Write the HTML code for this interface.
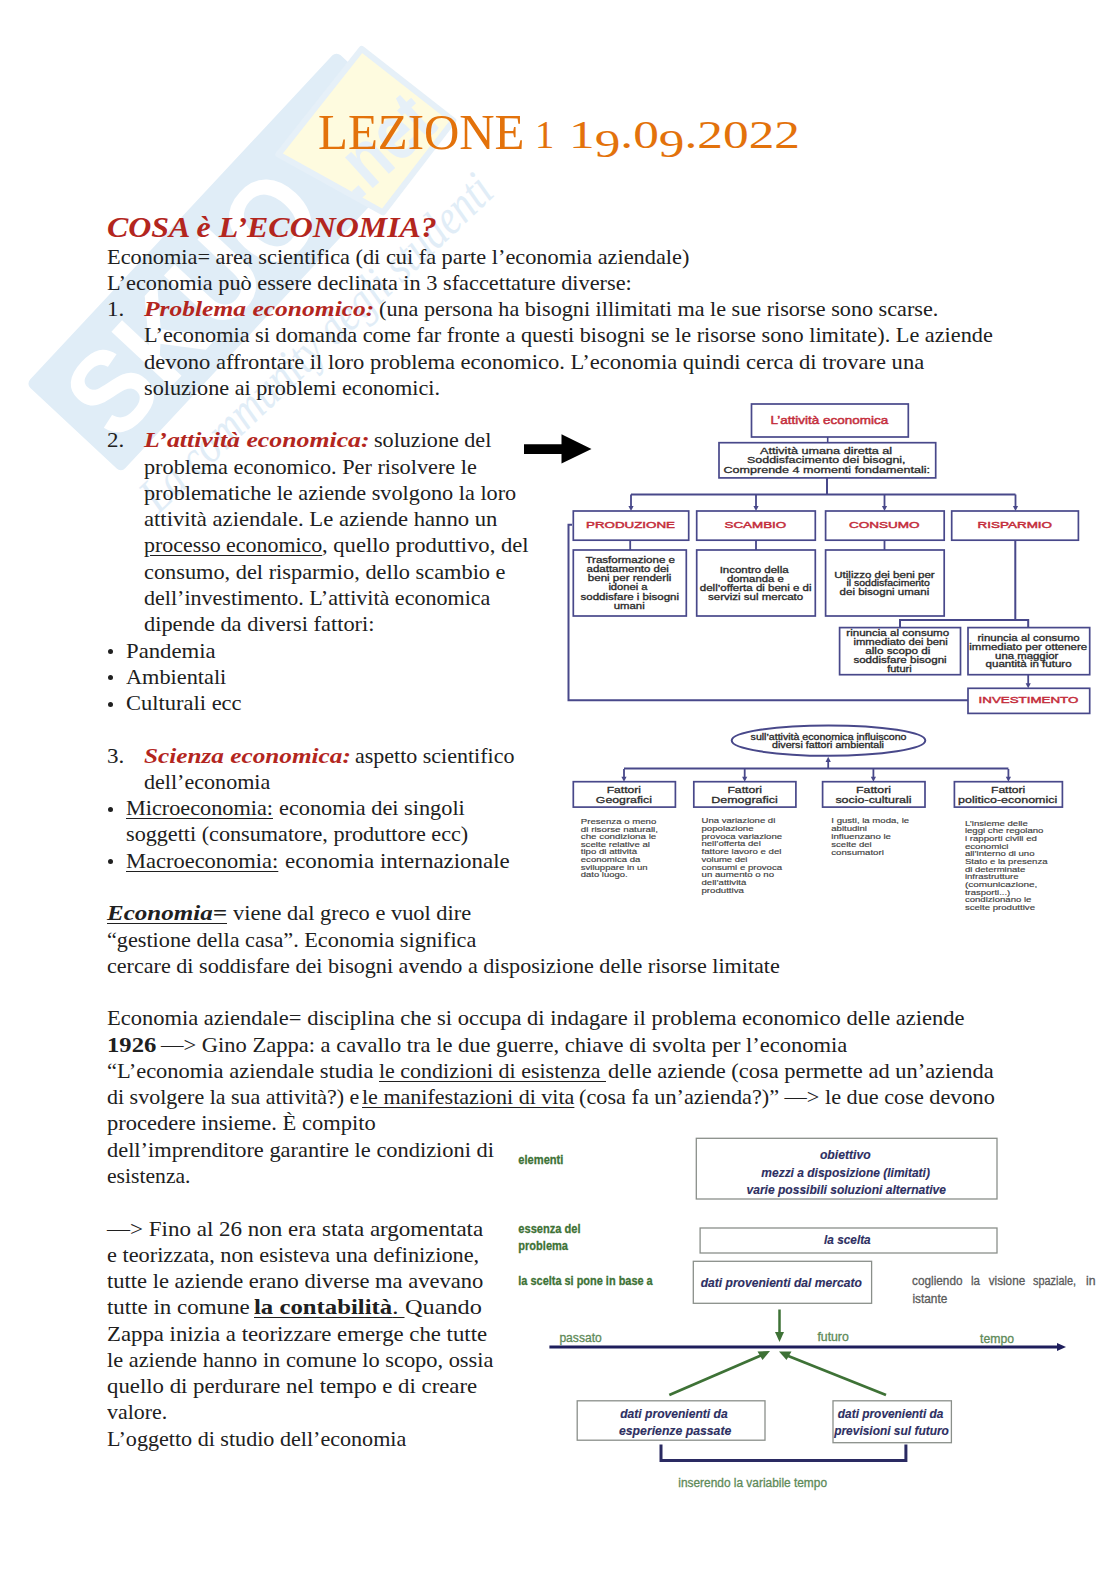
<!DOCTYPE html><html><head><meta charset="utf-8"><title>Lezione 1</title><style>
html,body{margin:0;padding:0;background:#fff;}
body{width:1116px;height:1579px;position:relative;overflow:hidden;font-family:"Liberation Serif",serif;color:#202020;}
.l{position:absolute;white-space:nowrap;line-height:0;transform-origin:0 0;}
.l span.in{display:inline-block;line-height:0;}
.r{color:#B3261E;font-weight:bold;font-style:italic;}
.title{color:#E3720B;}
.dn{position:relative;top:8.5px;}
.head{color:#B3261E;font-weight:bold;font-style:italic;}
u{text-decoration:underline;text-decoration-thickness:1px;text-underline-offset:3px;}
.bul{position:absolute;width:5px;height:5px;border-radius:50%;background:#202020;}
svg{position:absolute;left:0;top:0;}
</style></head><body>
<svg width="1116" height="600" viewBox="0 0 1116 600">
<g transform="translate(26,384) rotate(-47)">
<rect x="0" y="0" width="455" height="130" rx="6" fill="#E0EDF7"/>
<polygon points="340,28 474,17 484,133 369,144" fill="#FEFBDF" stroke="#E6F0F8" stroke-width="6" stroke-linejoin="round"/>
<text x="18" y="108" font-family="Liberation Sans" font-weight="bold" font-size="118" fill="#FFFFFF" textLength="310" lengthAdjust="spacingAndGlyphs">SKUO</text>
<text x="358" y="118" transform="rotate(5,358,118)" font-family="Liberation Sans" font-weight="bold" font-size="78" fill="#E6F0F8" textLength="112" lengthAdjust="spacingAndGlyphs">.net</text>
<text x="-5" y="186" transform="rotate(3.5,-5,186)" font-family="Liberation Serif" font-style="italic" font-size="50" fill="#E1EDF7" textLength="465" lengthAdjust="spacingAndGlyphs">La community degli studenti</text>
</g>
</svg>

<div class="l title" style="left:318.0px;top:131.72px;font-size:50px;transform:scaleX(0.9785)"><span class="in">LEZIONE</span></div>
<div class="l title" style="left:535.0px;top:135.10px;font-size:40px;transform:scaleX(0.9650)"><span class="in">1</span></div>
<div class="l title" style="left:568.5px;top:135.10px;font-size:40px;transform:scaleX(1.2833)"><span class="in">1<span class="dn">9</span>.0<span class="dn">9</span>.2022</span></div>
<div class="l head" style="left:107.0px;top:226.57px;font-size:30px;transform:scaleX(1.0636)"><span class="in">COSA è L’ECONOMIA?</span></div>
<div class="l" style="left:107.0px;top:256.51px;font-size:21.0px;transform:scaleX(1.0622)"><span class="in">Economia= area scientifica (di cui fa parte l’economia aziendale)</span></div>
<div class="l" style="left:107.0px;top:282.78px;font-size:21.0px;transform:scaleX(1.0618)"><span class="in">L’economia può essere declinata in 3 sfaccettature diverse:</span></div>
<div class="l" style="left:107.0px;top:309.05px;font-size:21.0px;transform:scaleX(1.0921)"><span class="in">1.</span></div>
<div class="l" style="left:144.0px;top:309.05px;font-size:21.0px;transform:scaleX(1.2150)"><span class="in"><span class="r">Problema economico:</span></span></div>
<div class="l" style="left:378.5px;top:309.05px;font-size:21.0px;transform:scaleX(1.0550)"><span class="in">(una persona ha bisogni illimitati ma le sue risorse sono scarse.</span></div>
<div class="l" style="left:144.0px;top:335.32px;font-size:21.0px;transform:scaleX(1.0604)"><span class="in">L’economia si domanda come far fronte a questi bisogni se le risorse sono limitate). Le aziende</span></div>
<div class="l" style="left:144.0px;top:361.59px;font-size:21.0px;transform:scaleX(1.0720)"><span class="in">devono affrontare il loro problema economico. L’economia quindi cerca di trovare una</span></div>
<div class="l" style="left:144.0px;top:387.86px;font-size:21.0px;transform:scaleX(1.0574)"><span class="in">soluzione ai problemi economici.</span></div>
<div class="l" style="left:107.0px;top:440.40px;font-size:21.0px;transform:scaleX(1.0921)"><span class="in">2.</span></div>
<div class="l" style="left:144.0px;top:440.40px;font-size:21.0px;transform:scaleX(1.2280)"><span class="in"><span class="r">L’attività economica:</span></span></div>
<div class="l" style="left:373.5px;top:440.40px;font-size:21.0px;transform:scaleX(1.0531)"><span class="in">soluzione del</span></div>
<div class="l" style="left:144.0px;top:466.67px;font-size:21.0px;transform:scaleX(1.0588)"><span class="in">problema economico. Per risolvere le</span></div>
<div class="l" style="left:144.0px;top:492.94px;font-size:21.0px;transform:scaleX(1.0585)"><span class="in">problematiche le aziende svolgono la loro</span></div>
<div class="l" style="left:144.0px;top:519.21px;font-size:21.0px;transform:scaleX(1.0785)"><span class="in">attività aziendale. Le aziende hanno un</span></div>
<div class="l" style="left:144.0px;top:545.48px;font-size:21.0px;transform:scaleX(1.0429)"><span class="in"><u>processo economico</u></span></div>
<div class="l" style="left:322.2px;top:545.48px;font-size:21.0px;transform:scaleX(1.0766)"><span class="in">, quello produttivo, del</span></div>
<div class="l" style="left:144.0px;top:571.75px;font-size:21.0px;transform:scaleX(1.0632)"><span class="in">consumo, del risparmio, dello scambio e</span></div>
<div class="l" style="left:144.0px;top:598.02px;font-size:21.0px;transform:scaleX(1.0500)"><span class="in">dell’investimento. L’attività economica</span></div>
<div class="l" style="left:144.0px;top:624.29px;font-size:21.0px;transform:scaleX(1.0654)"><span class="in">dipende da diversi fattori:</span></div>
<div class="l" style="left:126.0px;top:650.56px;font-size:21.0px;transform:scaleX(1.0820)"><span class="in">Pandemia</span></div>
<div class="l" style="left:126.0px;top:676.83px;font-size:21.0px;transform:scaleX(1.0616)"><span class="in">Ambientali</span></div>
<div class="l" style="left:126.0px;top:703.10px;font-size:21.0px;transform:scaleX(1.0716)"><span class="in">Culturali ecc</span></div>
<div class="l" style="left:107.0px;top:755.64px;font-size:21.0px;transform:scaleX(1.0921)"><span class="in">3.</span></div>
<div class="l" style="left:144.0px;top:755.64px;font-size:21.0px;transform:scaleX(1.2019)"><span class="in"><span class="r">Scienza economica:</span></span></div>
<div class="l" style="left:354.7px;top:755.64px;font-size:21.0px;transform:scaleX(1.0473)"><span class="in">aspetto scientifico</span></div>
<div class="l" style="left:144.0px;top:781.91px;font-size:21.0px;transform:scaleX(1.0514)"><span class="in">dell’economia</span></div>
<div class="l" style="left:126.0px;top:808.18px;font-size:21.0px;transform:scaleX(1.0591)"><span class="in"><u>Microeconomia:</u></span></div>
<div class="l" style="left:279.0px;top:808.18px;font-size:21.0px;transform:scaleX(1.0619)"><span class="in">economia dei singoli</span></div>
<div class="l" style="left:126.0px;top:834.45px;font-size:21.0px;transform:scaleX(1.0555)"><span class="in">soggetti (consumatore, produttore ecc)</span></div>
<div class="l" style="left:126.0px;top:860.72px;font-size:21.0px;transform:scaleX(1.0704)"><span class="in"><u>Macroeconomia:</u></span></div>
<div class="l" style="left:284.6px;top:860.72px;font-size:21.0px;transform:scaleX(1.0922)"><span class="in">economia internazionale</span></div>
<div class="l" style="left:107.0px;top:913.26px;font-size:21.0px;transform:scaleX(1.1922)"><span class="in"><u><b><i>Economia=</i></b></u></span></div>
<div class="l" style="left:232.6px;top:913.26px;font-size:21.0px;transform:scaleX(1.0666)"><span class="in">viene dal greco e vuol dire</span></div>
<div class="l" style="left:107.0px;top:939.53px;font-size:21.0px;transform:scaleX(1.0573)"><span class="in">“gestione della casa”. Economia significa</span></div>
<div class="l" style="left:107.0px;top:965.80px;font-size:21.0px;transform:scaleX(1.0527)"><span class="in">cercare di soddisfare dei bisogni avendo a disposizione delle risorse limitate</span></div>
<div class="l" style="left:107.0px;top:1018.34px;font-size:21.0px;transform:scaleX(1.0716)"><span class="in">Economia aziendale= disciplina che si occupa di indagare il problema economico delle aziende</span></div>
<div class="l" style="left:107.0px;top:1044.61px;font-size:21.0px;transform:scaleX(1.1738)"><span class="in"><b>1926</b></span></div>
<div class="l" style="left:161.0px;top:1044.61px;font-size:21.0px;transform:scaleX(1.0716)"><span class="in">—&gt; Gino Zappa: a cavallo tra le due guerre, chiave di svolta per l’economia</span></div>
<div class="l" style="left:107.0px;top:1070.88px;font-size:21.0px;transform:scaleX(1.0712)"><span class="in">“L’economia aziendale studia</span></div>
<div class="l" style="left:379.0px;top:1070.88px;font-size:21.0px;transform:scaleX(1.0464)"><span class="in"><u>le condizioni di esistenza&nbsp;</u></span></div>
<div class="l" style="left:607.5px;top:1070.88px;font-size:21.0px;transform:scaleX(1.0687)"><span class="in">delle aziende (cosa permette ad un’azienda</span></div>
<div class="l" style="left:107.0px;top:1097.15px;font-size:21.0px;transform:scaleX(1.0476)"><span class="in">di svolgere la sua attività?) e</span></div>
<div class="l" style="left:361.5px;top:1097.15px;font-size:21.0px;transform:scaleX(1.0496)"><span class="in"><u>le manifestazioni di vita</u></span></div>
<div class="l" style="left:579.2px;top:1097.15px;font-size:21.0px;transform:scaleX(1.0592)"><span class="in">(cosa fa un’azienda?)” —&gt; le due cose devono</span></div>
<div class="l" style="left:107.0px;top:1123.42px;font-size:21.0px;transform:scaleX(1.0716)"><span class="in">procedere insieme. È compito</span></div>
<div class="l" style="left:107.0px;top:1149.69px;font-size:21.0px;transform:scaleX(1.0670)"><span class="in">dell’imprenditore garantire le condizioni di</span></div>
<div class="l" style="left:107.0px;top:1175.96px;font-size:21.0px;transform:scaleX(1.0303)"><span class="in">esistenza.</span></div>
<div class="l" style="left:107.0px;top:1228.50px;font-size:21.0px;transform:scaleX(1.0959)"><span class="in">—&gt; Fino al 26 non era stata argomentata</span></div>
<div class="l" style="left:107.0px;top:1254.77px;font-size:21.0px;transform:scaleX(1.0621)"><span class="in">e teorizzata, non esisteva una definizione,</span></div>
<div class="l" style="left:107.0px;top:1281.04px;font-size:21.0px;transform:scaleX(1.0718)"><span class="in">tutte le aziende erano diverse ma avevano</span></div>
<div class="l" style="left:107.0px;top:1307.31px;font-size:21.0px;transform:scaleX(1.0915)"><span class="in">tutte in comune</span></div>
<div class="l" style="left:254.0px;top:1307.31px;font-size:21.0px;transform:scaleX(1.1779)"><span class="in"><u><b>la contabilità</b>.&nbsp;</u></span></div>
<div class="l" style="left:405.4px;top:1307.31px;font-size:21.0px;transform:scaleX(1.1549)"><span class="in">Quando</span></div>
<div class="l" style="left:107.0px;top:1333.58px;font-size:21.0px;transform:scaleX(1.0842)"><span class="in">Zappa inizia a teorizzare emerge che tutte</span></div>
<div class="l" style="left:107.0px;top:1359.85px;font-size:21.0px;transform:scaleX(1.0652)"><span class="in">le aziende hanno in comune lo scopo, ossia</span></div>
<div class="l" style="left:107.0px;top:1386.12px;font-size:21.0px;transform:scaleX(1.0853)"><span class="in">quello di perdurare nel tempo e di creare</span></div>
<div class="l" style="left:107.0px;top:1412.39px;font-size:21.0px;transform:scaleX(1.0427)"><span class="in">valore.</span></div>
<div class="l" style="left:107.0px;top:1438.66px;font-size:21.0px;transform:scaleX(1.0523)"><span class="in">L’oggetto di studio dell’economia</span></div>
<div class="bul" style="left:107.5px;top:649.2px"></div>
<div class="bul" style="left:107.5px;top:675.4px"></div>
<div class="bul" style="left:107.5px;top:701.7px"></div>
<div class="bul" style="left:107.5px;top:806.8px"></div>
<div class="bul" style="left:107.5px;top:859.3px"></div>
<svg width="1116" height="1579" viewBox="0 0 1116 1579">
<path d="M524,444.2 L561.5,444.2 L561.5,434.3 L591.5,449 L561.5,463.5 L561.5,453.9 L524,453.9 Z" fill="#000"/>
<rect x="751.5" y="404.0" width="156.8" height="33.0" fill="none" stroke="#48488A" stroke-width="1.7"/>
<text x="770.6" y="424.0" font-family="Liberation Sans" font-size="10.8" font-weight="normal" font-style="normal" fill="#C42E3C" stroke="#C42E3C" stroke-width="0.45" textLength="117.6" lengthAdjust="spacingAndGlyphs">L’attività economica</text>
<rect x="719.0" y="442.7" width="216.7" height="35.2" fill="none" stroke="#48488A" stroke-width="1.7"/>
<text x="760.0" y="453.7" font-family="Liberation Sans" font-size="9.6" font-weight="normal" font-style="normal" fill="#2A2A2A" stroke="#2A2A2A" stroke-width="0.3" textLength="132.2" lengthAdjust="spacingAndGlyphs">Attività umana diretta al</text>
<text x="747.0" y="463.3" font-family="Liberation Sans" font-size="9.6" font-weight="normal" font-style="normal" fill="#2A2A2A" stroke="#2A2A2A" stroke-width="0.3" textLength="158.6" lengthAdjust="spacingAndGlyphs">Soddisfacimento dei bisogni,</text>
<text x="723.5" y="473.4" font-family="Liberation Sans" font-size="9.6" font-weight="normal" font-style="normal" fill="#2A2A2A" stroke="#2A2A2A" stroke-width="0.3" textLength="206.5" lengthAdjust="spacingAndGlyphs">Comprende 4 momenti fondamentali:</text>
<path d="M827.7,437 V442.7" fill="none" stroke="#48488A" stroke-width="1.6"/>
<path d="M827,478 V494.5" fill="none" stroke="#48488A" stroke-width="2"/>
<path d="M631,494.5 H1015.5" fill="none" stroke="#48488A" stroke-width="2"/>
<path d="M631,494.5 V507" fill="none" stroke="#48488A" stroke-width="1.8"/>
<path d="M628.4,506.0 L633.6,506.0 L631.0,511.0 Z" fill="#48488A"/>
<path d="M756,494.5 V507" fill="none" stroke="#48488A" stroke-width="1.8"/>
<path d="M753.4,506.0 L758.6,506.0 L756.0,511.0 Z" fill="#48488A"/>
<path d="M884.5,494.5 V507" fill="none" stroke="#48488A" stroke-width="1.8"/>
<path d="M881.9,506.0 L887.1,506.0 L884.5,511.0 Z" fill="#48488A"/>
<path d="M1015.5,494.5 V507" fill="none" stroke="#48488A" stroke-width="1.8"/>
<path d="M1012.9,506.0 L1018.1,506.0 L1015.5,511.0 Z" fill="#48488A"/>
<rect x="573.3" y="511.0" width="115.4" height="29.2" fill="none" stroke="#48488A" stroke-width="1.7"/>
<text x="586.0" y="528.4" font-family="Liberation Sans" font-size="9.2" font-weight="normal" font-style="normal" fill="#C42E3C" stroke="#C42E3C" stroke-width="0.45" textLength="89.0" lengthAdjust="spacingAndGlyphs">PRODUZIONE</text>
<rect x="696.7" y="511.0" width="118.6" height="29.2" fill="none" stroke="#48488A" stroke-width="1.7"/>
<text x="724.5" y="528.4" font-family="Liberation Sans" font-size="9.2" font-weight="normal" font-style="normal" fill="#C42E3C" stroke="#C42E3C" stroke-width="0.45" textLength="61.7" lengthAdjust="spacingAndGlyphs">SCAMBIO</text>
<rect x="825.6" y="511.0" width="118.6" height="29.2" fill="none" stroke="#48488A" stroke-width="1.7"/>
<text x="848.9" y="528.4" font-family="Liberation Sans" font-size="9.2" font-weight="normal" font-style="normal" fill="#C42E3C" stroke="#C42E3C" stroke-width="0.45" textLength="70.7" lengthAdjust="spacingAndGlyphs">CONSUMO</text>
<rect x="951.7" y="511.0" width="126.7" height="29.2" fill="none" stroke="#48488A" stroke-width="1.7"/>
<text x="977.6" y="528.4" font-family="Liberation Sans" font-size="9.2" font-weight="normal" font-style="normal" fill="#C42E3C" stroke="#C42E3C" stroke-width="0.45" textLength="74.5" lengthAdjust="spacingAndGlyphs">RISPARMIO</text>
<rect x="573.3" y="550.0" width="113.0" height="66.0" fill="none" stroke="#48488A" stroke-width="1.7"/>
<text x="585.4" y="563.3" font-family="Liberation Sans" font-size="8.5" font-weight="normal" font-style="normal" fill="#2A2A2A" stroke="#2A2A2A" stroke-width="0.3" textLength="89.6" lengthAdjust="spacingAndGlyphs">Trasformazione e</text>
<text x="586.6" y="572.2" font-family="Liberation Sans" font-size="8.5" font-weight="normal" font-style="normal" fill="#2A2A2A" stroke="#2A2A2A" stroke-width="0.3" textLength="82.3" lengthAdjust="spacingAndGlyphs">adattamento dei</text>
<text x="587.8" y="581.4" font-family="Liberation Sans" font-size="8.5" font-weight="normal" font-style="normal" fill="#2A2A2A" stroke="#2A2A2A" stroke-width="0.3" textLength="83.5" lengthAdjust="spacingAndGlyphs">beni per renderli</text>
<text x="608.4" y="589.9" font-family="Liberation Sans" font-size="8.5" font-weight="normal" font-style="normal" fill="#2A2A2A" stroke="#2A2A2A" stroke-width="0.3" textLength="39.2" lengthAdjust="spacingAndGlyphs">idonei a</text>
<text x="580.6" y="599.6" font-family="Liberation Sans" font-size="8.5" font-weight="normal" font-style="normal" fill="#2A2A2A" stroke="#2A2A2A" stroke-width="0.3" textLength="98.4" lengthAdjust="spacingAndGlyphs">soddisfare i bisogni</text>
<text x="613.7" y="608.5" font-family="Liberation Sans" font-size="8.5" font-weight="normal" font-style="normal" fill="#2A2A2A" stroke="#2A2A2A" stroke-width="0.3" textLength="31.0" lengthAdjust="spacingAndGlyphs">umani</text>
<rect x="696.7" y="550.0" width="118.6" height="66.0" fill="none" stroke="#48488A" stroke-width="1.7"/>
<text x="719.7" y="573.0" font-family="Liberation Sans" font-size="8.5" font-weight="normal" font-style="normal" fill="#2A2A2A" stroke="#2A2A2A" stroke-width="0.3" textLength="68.9" lengthAdjust="spacingAndGlyphs">Incontro della</text>
<text x="727.0" y="582.0" font-family="Liberation Sans" font-size="8.5" font-weight="normal" font-style="normal" fill="#2A2A2A" stroke="#2A2A2A" stroke-width="0.3" textLength="56.8" lengthAdjust="spacingAndGlyphs">domanda e</text>
<text x="699.8" y="591.0" font-family="Liberation Sans" font-size="8.5" font-weight="normal" font-style="normal" fill="#2A2A2A" stroke="#2A2A2A" stroke-width="0.3" textLength="111.8" lengthAdjust="spacingAndGlyphs">dell’offerta di beni e di</text>
<text x="708.0" y="600.0" font-family="Liberation Sans" font-size="8.5" font-weight="normal" font-style="normal" fill="#2A2A2A" stroke="#2A2A2A" stroke-width="0.3" textLength="95.2" lengthAdjust="spacingAndGlyphs">servizi sul mercato</text>
<rect x="825.6" y="550.0" width="118.6" height="66.0" fill="none" stroke="#48488A" stroke-width="1.7"/>
<text x="834.3" y="577.6" font-family="Liberation Sans" font-size="8.5" font-weight="normal" font-style="normal" fill="#2A2A2A" stroke="#2A2A2A" stroke-width="0.3" textLength="100.4" lengthAdjust="spacingAndGlyphs">Utilizzo dei beni per</text>
<text x="846.4" y="586.4" font-family="Liberation Sans" font-size="8.5" font-weight="normal" font-style="normal" fill="#2A2A2A" stroke="#2A2A2A" stroke-width="0.3" textLength="83.5" lengthAdjust="spacingAndGlyphs">il soddisfacimento</text>
<text x="839.6" y="595.2" font-family="Liberation Sans" font-size="8.5" font-weight="normal" font-style="normal" fill="#2A2A2A" stroke="#2A2A2A" stroke-width="0.3" textLength="89.6" lengthAdjust="spacingAndGlyphs">dei bisogni umani</text>
<path d="M630.2,540 V550 M756,540 V550 M884.5,540 V550" fill="none" stroke="#48488A" stroke-width="1.8"/>
<path d="M1015.3,540 V620 M900,627.6 V620 H1028.2 V627.6" fill="none" stroke="#48488A" stroke-width="2"/>
<rect x="839.6" y="627.6" width="120.9" height="47.1" fill="none" stroke="#48488A" stroke-width="1.7"/>
<text x="846.3" y="636.0" font-family="Liberation Sans" font-size="8.5" font-weight="normal" font-style="normal" fill="#2A2A2A" stroke="#2A2A2A" stroke-width="0.3" textLength="102.9" lengthAdjust="spacingAndGlyphs">rinuncia al consumo</text>
<text x="853.4" y="644.9" font-family="Liberation Sans" font-size="8.5" font-weight="normal" font-style="normal" fill="#2A2A2A" stroke="#2A2A2A" stroke-width="0.3" textLength="94.5" lengthAdjust="spacingAndGlyphs">immediato dei beni</text>
<text x="865.2" y="653.6" font-family="Liberation Sans" font-size="8.5" font-weight="normal" font-style="normal" fill="#2A2A2A" stroke="#2A2A2A" stroke-width="0.3" textLength="65.2" lengthAdjust="spacingAndGlyphs">allo scopo di</text>
<text x="853.4" y="663.2" font-family="Liberation Sans" font-size="8.5" font-weight="normal" font-style="normal" fill="#2A2A2A" stroke="#2A2A2A" stroke-width="0.3" textLength="93.3" lengthAdjust="spacingAndGlyphs">soddisfare bisogni</text>
<text x="887.2" y="672.0" font-family="Liberation Sans" font-size="8.5" font-weight="normal" font-style="normal" fill="#2A2A2A" stroke="#2A2A2A" stroke-width="0.3" textLength="24.4" lengthAdjust="spacingAndGlyphs">futuri</text>
<rect x="968.0" y="627.6" width="121.7" height="47.1" fill="none" stroke="#48488A" stroke-width="1.7"/>
<text x="977.5" y="640.6" font-family="Liberation Sans" font-size="8.5" font-weight="normal" font-style="normal" fill="#2A2A2A" stroke="#2A2A2A" stroke-width="0.3" textLength="102.2" lengthAdjust="spacingAndGlyphs">rinuncia al consumo</text>
<text x="969.3" y="649.9" font-family="Liberation Sans" font-size="8.5" font-weight="normal" font-style="normal" fill="#2A2A2A" stroke="#2A2A2A" stroke-width="0.3" textLength="117.9" lengthAdjust="spacingAndGlyphs">immediato per ottenere</text>
<text x="995.1" y="658.7" font-family="Liberation Sans" font-size="8.5" font-weight="normal" font-style="normal" fill="#2A2A2A" stroke="#2A2A2A" stroke-width="0.3" textLength="63.2" lengthAdjust="spacingAndGlyphs">una maggior</text>
<text x="985.6" y="667.4" font-family="Liberation Sans" font-size="8.5" font-weight="normal" font-style="normal" fill="#2A2A2A" stroke="#2A2A2A" stroke-width="0.3" textLength="86.0" lengthAdjust="spacingAndGlyphs">quantità in futuro</text>
<path d="M1028.2,674.7 V684" fill="none" stroke="#48488A" stroke-width="1.8"/>
<path d="M1025.6,683.3 L1030.8,683.3 L1028.2,688.3 Z" fill="#48488A"/>
<rect x="968.0" y="688.3" width="121.7" height="25.1" fill="none" stroke="#48488A" stroke-width="1.7"/>
<text x="978.6" y="703.3" font-family="Liberation Sans" font-size="9.2" font-weight="normal" font-style="normal" fill="#C42E3C" stroke="#C42E3C" stroke-width="0.45" textLength="99.8" lengthAdjust="spacingAndGlyphs">INVESTIMENTO</text>
<path d="M968,700.3 H568.5 V524.8 H572" fill="none" stroke="#48488A" stroke-width="2"/>
<ellipse cx="828.5" cy="740.6" rx="96.8" ry="15.2" fill="none" stroke="#48488A" stroke-width="2"/>
<text x="750.6" y="739.7" font-family="Liberation Sans" font-size="8.2" font-weight="normal" font-style="normal" fill="#2A2A2A" stroke="#2A2A2A" stroke-width="0.3" textLength="155.9" lengthAdjust="spacingAndGlyphs">sull’attività economica influiscono</text>
<text x="772.0" y="747.8" font-family="Liberation Sans" font-size="8.2" font-weight="normal" font-style="normal" fill="#2A2A2A" stroke="#2A2A2A" stroke-width="0.3" textLength="112.0" lengthAdjust="spacingAndGlyphs">diversi fattori ambientali</text>
<path d="M828.2,768.4 V761" fill="none" stroke="#48488A" stroke-width="1.8"/>
<path d="M825.6,762 L830.8,762 L828.2,756.7 Z" fill="#48488A"/>
<path d="M624,768.6 H1008.4" fill="none" stroke="#48488A" stroke-width="2"/>
<path d="M624,769 V777.5" fill="none" stroke="#48488A" stroke-width="1.8"/>
<path d="M621.4,776.7 L626.6,776.7 L624.0,781.7 Z" fill="#48488A"/>
<path d="M744.7,769 V777.5" fill="none" stroke="#48488A" stroke-width="1.8"/>
<path d="M742.1,776.7 L747.3,776.7 L744.7,781.7 Z" fill="#48488A"/>
<path d="M873.4,769 V777.5" fill="none" stroke="#48488A" stroke-width="1.8"/>
<path d="M870.8,776.7 L876.0,776.7 L873.4,781.7 Z" fill="#48488A"/>
<path d="M1008.4,769 V777.5" fill="none" stroke="#48488A" stroke-width="1.8"/>
<path d="M1005.8,776.7 L1011.0,776.7 L1008.4,781.7 Z" fill="#48488A"/>
<rect x="573.3" y="781.7" width="102.1" height="25.4" fill="none" stroke="#48488A" stroke-width="1.7"/>
<text x="606.7" y="792.6" font-family="Liberation Sans" font-size="9.8" font-weight="normal" font-style="normal" fill="#2A2A2A" stroke="#2A2A2A" stroke-width="0.3" textLength="34.3" lengthAdjust="spacingAndGlyphs">Fattori</text>
<text x="595.8" y="802.7" font-family="Liberation Sans" font-size="9.8" font-weight="normal" font-style="normal" fill="#2A2A2A" stroke="#2A2A2A" stroke-width="0.3" textLength="56.2" lengthAdjust="spacingAndGlyphs">Geografici</text>
<rect x="693.8" y="781.7" width="102.1" height="25.4" fill="none" stroke="#48488A" stroke-width="1.7"/>
<text x="727.4" y="792.6" font-family="Liberation Sans" font-size="9.8" font-weight="normal" font-style="normal" fill="#2A2A2A" stroke="#2A2A2A" stroke-width="0.3" textLength="34.6" lengthAdjust="spacingAndGlyphs">Fattori</text>
<text x="711.2" y="802.7" font-family="Liberation Sans" font-size="9.8" font-weight="normal" font-style="normal" fill="#2A2A2A" stroke="#2A2A2A" stroke-width="0.3" textLength="66.6" lengthAdjust="spacingAndGlyphs">Demografici</text>
<rect x="822.6" y="781.7" width="102.4" height="25.4" fill="none" stroke="#48488A" stroke-width="1.7"/>
<text x="856.0" y="792.6" font-family="Liberation Sans" font-size="9.8" font-weight="normal" font-style="normal" fill="#2A2A2A" stroke="#2A2A2A" stroke-width="0.3" textLength="35.0" lengthAdjust="spacingAndGlyphs">Fattori</text>
<text x="835.4" y="802.7" font-family="Liberation Sans" font-size="9.8" font-weight="normal" font-style="normal" fill="#2A2A2A" stroke="#2A2A2A" stroke-width="0.3" textLength="76.2" lengthAdjust="spacingAndGlyphs">socio-culturali</text>
<rect x="954.4" y="781.7" width="108.0" height="25.4" fill="none" stroke="#48488A" stroke-width="1.7"/>
<text x="991.0" y="792.6" font-family="Liberation Sans" font-size="9.8" font-weight="normal" font-style="normal" fill="#2A2A2A" stroke="#2A2A2A" stroke-width="0.3" textLength="34.3" lengthAdjust="spacingAndGlyphs">Fattori</text>
<text x="958.1" y="802.7" font-family="Liberation Sans" font-size="9.8" font-weight="normal" font-style="normal" fill="#2A2A2A" stroke="#2A2A2A" stroke-width="0.3" textLength="99.2" lengthAdjust="spacingAndGlyphs">politico-economici</text>
<text x="580.8" y="823.9" font-family="Liberation Sans" font-size="7.6" font-weight="normal" font-style="normal" fill="#404040" stroke="#404040" stroke-width="0.15" textLength="75.5" lengthAdjust="spacingAndGlyphs">Presenza o meno</text>
<text x="580.8" y="831.5" font-family="Liberation Sans" font-size="7.6" font-weight="normal" font-style="normal" fill="#404040" stroke="#404040" stroke-width="0.15" textLength="77.2" lengthAdjust="spacingAndGlyphs">di risorse naturali,</text>
<text x="580.8" y="839.1" font-family="Liberation Sans" font-size="7.6" font-weight="normal" font-style="normal" fill="#404040" stroke="#404040" stroke-width="0.15" textLength="75.5" lengthAdjust="spacingAndGlyphs">che condiziona le</text>
<text x="580.8" y="846.7" font-family="Liberation Sans" font-size="7.6" font-weight="normal" font-style="normal" fill="#404040" stroke="#404040" stroke-width="0.15" textLength="69.2" lengthAdjust="spacingAndGlyphs">scelte relative al</text>
<text x="580.8" y="854.3" font-family="Liberation Sans" font-size="7.6" font-weight="normal" font-style="normal" fill="#404040" stroke="#404040" stroke-width="0.15" textLength="56.2" lengthAdjust="spacingAndGlyphs">tipo di attività</text>
<text x="580.8" y="861.9" font-family="Liberation Sans" font-size="7.6" font-weight="normal" font-style="normal" fill="#404040" stroke="#404040" stroke-width="0.15" textLength="59.5" lengthAdjust="spacingAndGlyphs">economica da</text>
<text x="580.8" y="869.5" font-family="Liberation Sans" font-size="7.6" font-weight="normal" font-style="normal" fill="#404040" stroke="#404040" stroke-width="0.15" textLength="66.8" lengthAdjust="spacingAndGlyphs">sviluppare in un</text>
<text x="580.8" y="877.1" font-family="Liberation Sans" font-size="7.6" font-weight="normal" font-style="normal" fill="#404040" stroke="#404040" stroke-width="0.15" textLength="46.9" lengthAdjust="spacingAndGlyphs">dato luogo.</text>
<text x="701.5" y="823.3" font-family="Liberation Sans" font-size="7.6" font-weight="normal" font-style="normal" fill="#404040" stroke="#404040" stroke-width="0.15" textLength="73.8" lengthAdjust="spacingAndGlyphs">Una variazione di</text>
<text x="701.5" y="831.0" font-family="Liberation Sans" font-size="7.6" font-weight="normal" font-style="normal" fill="#404040" stroke="#404040" stroke-width="0.15" textLength="52.1" lengthAdjust="spacingAndGlyphs">popolazione</text>
<text x="701.5" y="838.7" font-family="Liberation Sans" font-size="7.6" font-weight="normal" font-style="normal" fill="#404040" stroke="#404040" stroke-width="0.15" textLength="80.6" lengthAdjust="spacingAndGlyphs">provoca variazione</text>
<text x="701.5" y="846.4" font-family="Liberation Sans" font-size="7.6" font-weight="normal" font-style="normal" fill="#404040" stroke="#404040" stroke-width="0.15" textLength="59.3" lengthAdjust="spacingAndGlyphs">nell’offerta del</text>
<text x="701.5" y="854.1" font-family="Liberation Sans" font-size="7.6" font-weight="normal" font-style="normal" fill="#404040" stroke="#404040" stroke-width="0.15" textLength="79.9" lengthAdjust="spacingAndGlyphs">fattore lavoro e del</text>
<text x="701.5" y="861.8" font-family="Liberation Sans" font-size="7.6" font-weight="normal" font-style="normal" fill="#404040" stroke="#404040" stroke-width="0.15" textLength="46.0" lengthAdjust="spacingAndGlyphs">volume dei</text>
<text x="701.5" y="869.5" font-family="Liberation Sans" font-size="7.6" font-weight="normal" font-style="normal" fill="#404040" stroke="#404040" stroke-width="0.15" textLength="80.6" lengthAdjust="spacingAndGlyphs">consumi e provoca</text>
<text x="701.5" y="877.2" font-family="Liberation Sans" font-size="7.6" font-weight="normal" font-style="normal" fill="#404040" stroke="#404040" stroke-width="0.15" textLength="72.6" lengthAdjust="spacingAndGlyphs">un aumento o no</text>
<text x="701.5" y="884.9" font-family="Liberation Sans" font-size="7.6" font-weight="normal" font-style="normal" fill="#404040" stroke="#404040" stroke-width="0.15" textLength="44.8" lengthAdjust="spacingAndGlyphs">dell’attività</text>
<text x="701.5" y="892.6" font-family="Liberation Sans" font-size="7.6" font-weight="normal" font-style="normal" fill="#404040" stroke="#404040" stroke-width="0.15" textLength="42.4" lengthAdjust="spacingAndGlyphs">produttiva</text>
<text x="831.3" y="823.3" font-family="Liberation Sans" font-size="7.6" font-weight="normal" font-style="normal" fill="#404040" stroke="#404040" stroke-width="0.15" textLength="77.9" lengthAdjust="spacingAndGlyphs">I gusti, la moda, le</text>
<text x="831.3" y="831.1" font-family="Liberation Sans" font-size="7.6" font-weight="normal" font-style="normal" fill="#404040" stroke="#404040" stroke-width="0.15" textLength="35.6" lengthAdjust="spacingAndGlyphs">abitudini</text>
<text x="831.3" y="838.9" font-family="Liberation Sans" font-size="7.6" font-weight="normal" font-style="normal" fill="#404040" stroke="#404040" stroke-width="0.15" textLength="59.7" lengthAdjust="spacingAndGlyphs">influenzano le</text>
<text x="831.3" y="846.7" font-family="Liberation Sans" font-size="7.6" font-weight="normal" font-style="normal" fill="#404040" stroke="#404040" stroke-width="0.15" textLength="40.4" lengthAdjust="spacingAndGlyphs">scelte dei</text>
<text x="831.3" y="854.5" font-family="Liberation Sans" font-size="7.6" font-weight="normal" font-style="normal" fill="#404040" stroke="#404040" stroke-width="0.15" textLength="52.5" lengthAdjust="spacingAndGlyphs">consumatori</text>
<text x="964.9" y="825.7" font-family="Liberation Sans" font-size="7.6" font-weight="normal" font-style="normal" fill="#404040" stroke="#404040" stroke-width="0.15" textLength="62.9" lengthAdjust="spacingAndGlyphs">L’insieme delle</text>
<text x="964.9" y="833.3" font-family="Liberation Sans" font-size="7.6" font-weight="normal" font-style="normal" fill="#404040" stroke="#404040" stroke-width="0.15" textLength="78.6" lengthAdjust="spacingAndGlyphs">leggi che regolano</text>
<text x="964.9" y="841.0" font-family="Liberation Sans" font-size="7.6" font-weight="normal" font-style="normal" fill="#404040" stroke="#404040" stroke-width="0.15" textLength="72.1" lengthAdjust="spacingAndGlyphs">i rapporti civili ed</text>
<text x="964.9" y="848.6" font-family="Liberation Sans" font-size="7.6" font-weight="normal" font-style="normal" fill="#404040" stroke="#404040" stroke-width="0.15" textLength="43.5" lengthAdjust="spacingAndGlyphs">economici</text>
<text x="964.9" y="856.3" font-family="Liberation Sans" font-size="7.6" font-weight="normal" font-style="normal" fill="#404040" stroke="#404040" stroke-width="0.15" textLength="69.6" lengthAdjust="spacingAndGlyphs">all’interno di uno</text>
<text x="964.9" y="863.9" font-family="Liberation Sans" font-size="7.6" font-weight="normal" font-style="normal" fill="#404040" stroke="#404040" stroke-width="0.15" textLength="82.7" lengthAdjust="spacingAndGlyphs">Stato e la presenza</text>
<text x="964.9" y="871.5" font-family="Liberation Sans" font-size="7.6" font-weight="normal" font-style="normal" fill="#404040" stroke="#404040" stroke-width="0.15" textLength="60.4" lengthAdjust="spacingAndGlyphs">di determinate</text>
<text x="964.9" y="879.2" font-family="Liberation Sans" font-size="7.6" font-weight="normal" font-style="normal" fill="#404040" stroke="#404040" stroke-width="0.15" textLength="53.7" lengthAdjust="spacingAndGlyphs">infrastrutture</text>
<text x="964.9" y="886.8" font-family="Liberation Sans" font-size="7.6" font-weight="normal" font-style="normal" fill="#404040" stroke="#404040" stroke-width="0.15" textLength="72.5" lengthAdjust="spacingAndGlyphs">(comunicazione,</text>
<text x="964.9" y="894.5" font-family="Liberation Sans" font-size="7.6" font-weight="normal" font-style="normal" fill="#404040" stroke="#404040" stroke-width="0.15" textLength="45.4" lengthAdjust="spacingAndGlyphs">trasporti...)</text>
<text x="964.9" y="902.1" font-family="Liberation Sans" font-size="7.6" font-weight="normal" font-style="normal" fill="#404040" stroke="#404040" stroke-width="0.15" textLength="66.5" lengthAdjust="spacingAndGlyphs">condizionano le</text>
<text x="964.9" y="909.7" font-family="Liberation Sans" font-size="7.6" font-weight="normal" font-style="normal" fill="#404040" stroke="#404040" stroke-width="0.15" textLength="70.1" lengthAdjust="spacingAndGlyphs">scelte produttive</text>
<text x="518.3" y="1164.4" font-family="Liberation Sans" font-size="13" font-weight="bold" font-style="normal" fill="#3E7236" stroke="#3E7236" stroke-width="0.3" textLength="45.1" lengthAdjust="spacingAndGlyphs">elementi</text>
<text x="518.3" y="1233.0" font-family="Liberation Sans" font-size="13" font-weight="bold" font-style="normal" fill="#3E7236" stroke="#3E7236" stroke-width="0.3" textLength="62.3" lengthAdjust="spacingAndGlyphs">essenza del</text>
<text x="518.3" y="1250.4" font-family="Liberation Sans" font-size="13" font-weight="bold" font-style="normal" fill="#3E7236" stroke="#3E7236" stroke-width="0.3" textLength="49.7" lengthAdjust="spacingAndGlyphs">problema</text>
<text x="518.3" y="1285.3" font-family="Liberation Sans" font-size="13" font-weight="bold" font-style="normal" fill="#3E7236" stroke="#3E7236" stroke-width="0.3" textLength="134.4" lengthAdjust="spacingAndGlyphs">la scelta si pone in base a</text>
<rect x="696.3" y="1138.3" width="300.7" height="60.7" fill="none" stroke="#8A8F8A" stroke-width="1.3"/>
<text x="819.9" y="1159.0" font-family="Liberation Sans" font-size="13.5" font-weight="bold" font-style="italic" fill="#2E2F62" stroke="#2E2F62" stroke-width="0.15" textLength="50.8" lengthAdjust="spacingAndGlyphs">obiettivo</text>
<text x="761.3" y="1177.0" font-family="Liberation Sans" font-size="13.5" font-weight="bold" font-style="italic" fill="#2E2F62" stroke="#2E2F62" stroke-width="0.15" textLength="168.6" lengthAdjust="spacingAndGlyphs">mezzi a disposizione (limitati)</text>
<text x="746.5" y="1194.0" font-family="Liberation Sans" font-size="13.5" font-weight="bold" font-style="italic" fill="#2E2F62" stroke="#2E2F62" stroke-width="0.15" textLength="199.5" lengthAdjust="spacingAndGlyphs">varie possibili soluzioni alternative</text>
<rect x="700.1" y="1228.0" width="296.9" height="25.0" fill="none" stroke="#8A8F8A" stroke-width="1.3"/>
<text x="824.0" y="1244.2" font-family="Liberation Sans" font-size="13.5" font-weight="bold" font-style="italic" fill="#2E2F62" stroke="#2E2F62" stroke-width="0.15" textLength="46.7" lengthAdjust="spacingAndGlyphs">la scelta</text>
<rect x="693.3" y="1261.3" width="178.3" height="42.0" fill="none" stroke="#8A8F8A" stroke-width="1.3"/>
<text x="700.7" y="1287.0" font-family="Liberation Sans" font-size="13.5" font-weight="bold" font-style="italic" fill="#2E2F62" stroke="#2E2F62" stroke-width="0.15" textLength="161.1" lengthAdjust="spacingAndGlyphs">dati provenienti dal mercato</text>
<text x="912.0" y="1285.0" font-family="Liberation Sans" font-size="12.5" font-weight="normal" font-style="normal" fill="#5a5a5a" stroke="#5a5a5a" stroke-width="0.3" textLength="50.5" lengthAdjust="spacingAndGlyphs">cogliendo</text>
<text x="971.0" y="1285.0" font-family="Liberation Sans" font-size="12.5" font-weight="normal" font-style="normal" fill="#5a5a5a" stroke="#5a5a5a" stroke-width="0.3" textLength="9.0" lengthAdjust="spacingAndGlyphs">la</text>
<text x="988.7" y="1285.0" font-family="Liberation Sans" font-size="12.5" font-weight="normal" font-style="normal" fill="#5a5a5a" stroke="#5a5a5a" stroke-width="0.3" textLength="36.5" lengthAdjust="spacingAndGlyphs">visione</text>
<text x="1033.0" y="1285.0" font-family="Liberation Sans" font-size="12.5" font-weight="normal" font-style="normal" fill="#5a5a5a" stroke="#5a5a5a" stroke-width="0.3" textLength="43.0" lengthAdjust="spacingAndGlyphs">spaziale,</text>
<text x="1086.0" y="1285.0" font-family="Liberation Sans" font-size="12.5" font-weight="normal" font-style="normal" fill="#5a5a5a" stroke="#5a5a5a" stroke-width="0.3" textLength="9.5" lengthAdjust="spacingAndGlyphs">in</text>
<text x="912.4" y="1302.9" font-family="Liberation Sans" font-size="12.5" font-weight="normal" font-style="normal" fill="#5a5a5a" stroke="#5a5a5a" stroke-width="0.3" textLength="34.9" lengthAdjust="spacingAndGlyphs">istante</text>
<path d="M779.5,1309.5 V1333" fill="none" stroke="#3E7236" stroke-width="2.5"/>
<path d="M775,1332 L784,1332 L779.5,1342 Z" fill="#3E7236"/>
<path d="M549.4,1347 H1058" fill="none" stroke="#1E1E5C" stroke-width="2.8"/>
<path d="M1057,1343 L1066,1347 L1057,1351 Z" fill="#1E1E5C"/>
<text x="559.4" y="1341.7" font-family="Liberation Sans" font-size="12.5" font-weight="normal" font-style="normal" fill="#5E8A58" stroke="#5E8A58" stroke-width="0.3" textLength="42.4" lengthAdjust="spacingAndGlyphs">passato</text>
<text x="817.4" y="1340.8" font-family="Liberation Sans" font-size="12.5" font-weight="normal" font-style="normal" fill="#5E8A58" stroke="#5E8A58" stroke-width="0.3" textLength="31.4" lengthAdjust="spacingAndGlyphs">futuro</text>
<text x="980.0" y="1343.4" font-family="Liberation Sans" font-size="12.5" font-weight="normal" font-style="normal" fill="#5E8A58" stroke="#5E8A58" stroke-width="0.3" textLength="34.0" lengthAdjust="spacingAndGlyphs">tempo</text>
<path d="M669.3,1395 L762,1355" fill="none" stroke="#3E7236" stroke-width="2.8"/>
<path d="M770,1351 L757.5,1351.5 L762.5,1360 Z" fill="#3E7236"/>
<path d="M886,1395 L787,1355.5" fill="none" stroke="#3E7236" stroke-width="2.8"/>
<path d="M779,1351.5 L791.5,1351.5 L786.5,1360 Z" fill="#3E7236"/>
<rect x="577.2" y="1400.8" width="187.8" height="39.4" fill="none" stroke="#8A8F8A" stroke-width="1.3"/>
<text x="620.2" y="1417.6" font-family="Liberation Sans" font-size="13.5" font-weight="bold" font-style="italic" fill="#2E2F62" stroke="#2E2F62" stroke-width="0.15" textLength="107.5" lengthAdjust="spacingAndGlyphs">dati provenienti da</text>
<text x="619.0" y="1434.5" font-family="Liberation Sans" font-size="13.5" font-weight="bold" font-style="italic" fill="#2E2F62" stroke="#2E2F62" stroke-width="0.15" textLength="112.3" lengthAdjust="spacingAndGlyphs">esperienze passate</text>
<rect x="833.0" y="1400.8" width="118.4" height="41.9" fill="none" stroke="#8A8F8A" stroke-width="1.3"/>
<text x="837.8" y="1417.6" font-family="Liberation Sans" font-size="13.5" font-weight="bold" font-style="italic" fill="#2E2F62" stroke="#2E2F62" stroke-width="0.15" textLength="105.7" lengthAdjust="spacingAndGlyphs">dati provenienti da</text>
<text x="834.2" y="1434.5" font-family="Liberation Sans" font-size="13.5" font-weight="bold" font-style="italic" fill="#2E2F62" stroke="#2E2F62" stroke-width="0.15" textLength="114.7" lengthAdjust="spacingAndGlyphs">previsioni sul futuro</text>
<path d="M661,1444.5 V1460.6 H905.9 V1444.5" fill="none" stroke="#2A2A62" stroke-width="3"/>
<text x="678.3" y="1486.8" font-family="Liberation Sans" font-size="12.5" font-weight="normal" font-style="normal" fill="#5E8A58" stroke="#5E8A58" stroke-width="0.3" textLength="148.7" lengthAdjust="spacingAndGlyphs">inserendo la variabile tempo</text>
</svg>
</body></html>
